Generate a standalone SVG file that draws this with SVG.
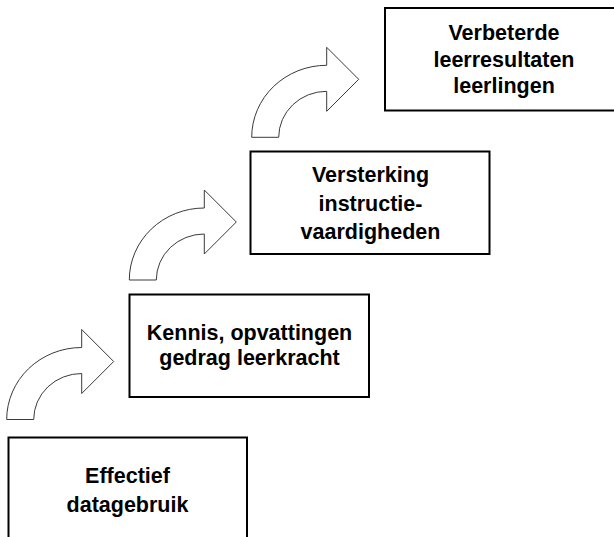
<svg xmlns="http://www.w3.org/2000/svg" width="614" height="537" viewBox="0 0 614 537">
<style>
.box{fill:#fff;stroke:#000;stroke-width:2}
.arr{fill:#fff;stroke:#3a3a3a;stroke-width:1;stroke-linejoin:miter}
.t{font-family:"Liberation Sans",Arial,sans-serif;font-weight:bold;font-size:21.5px;fill:#000;text-anchor:middle}
</style>
<defs>
<path id="curvedArrow" d="M0,0 A75,72 0 0 1 75,-72 L75,-90 L107,-58 L75,-26 L75,-46 A48,46 0 0 0 27,0 Z"/>
</defs>
<rect width="614" height="537" fill="#fff"/>
<g id="connectors">
<use href="#curvedArrow" class="arr" transform="translate(6.7,419.5)"/>
<use href="#curvedArrow" class="arr" transform="translate(129.3,280)"/>
<use href="#curvedArrow" class="arr" transform="translate(251.7,137.3)"/>
</g>
<g id="node-effectief">
<rect class="box" x="8.5" y="437.5" width="238.5" height="120"/>
<text class="t" x="127.5" y="482.5">Effectief</text>
<text class="t" x="127.5" y="511.5">datagebruik</text>
</g>
<g id="node-kennis">
<rect class="box" x="129.5" y="294.5" width="239.5" height="102.5"/>
<text class="t" x="249.5" y="339.5">Kennis, opvattingen</text>
<text class="t" x="249.5" y="365">gedrag leerkracht</text>
</g>
<g id="node-versterking">
<rect class="box" x="250.5" y="151.5" width="239" height="102.5"/>
<text class="t" x="370.5" y="182">Versterking</text>
<text class="t" x="370.5" y="211">instructie-</text>
<text class="t" x="370.5" y="239">vaardigheden</text>
</g>
<g id="node-verbeterde">
<rect class="box" x="385" y="8" width="240" height="102.5"/>
<text class="t" x="504" y="39.5">Verbeterde</text>
<text class="t" x="504" y="66.5">leerresultaten</text>
<text class="t" x="504" y="93">leerlingen</text>
</g>
</svg>
